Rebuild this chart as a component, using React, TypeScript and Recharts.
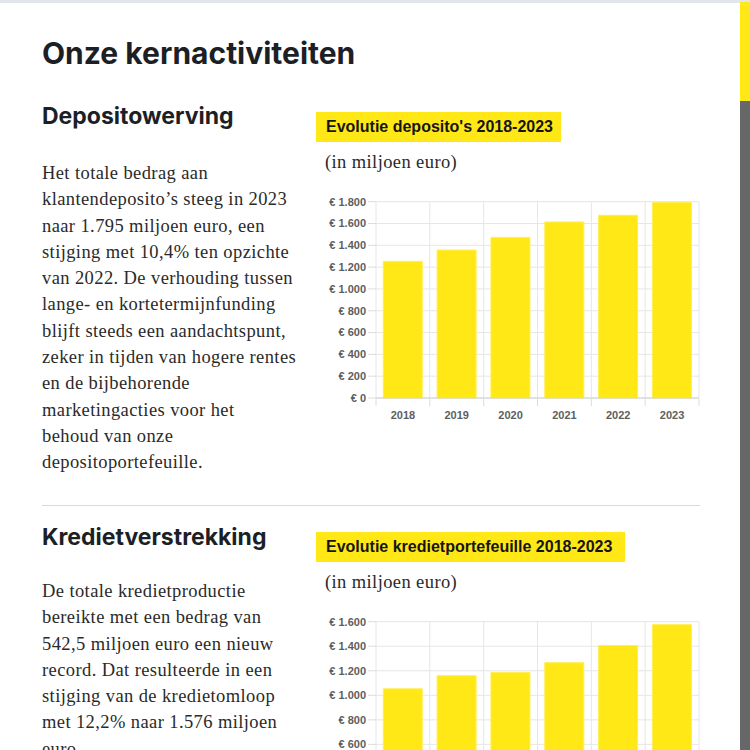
import { BarChart, Bar, XAxis, YAxis, CartesianGrid } from "recharts";

const years = ["2018", "2019", "2020", "2021", "2022", "2023"];
const depositValues = [1253, 1357, 1473, 1614, 1675, 1795];
const creditValues = [1053, 1160, 1187, 1266, 1406, 1576];
const depositTicks = [0, 200, 400, 600, 800, 1000, 1200, 1400, 1600, 1800];
const creditTicks = [0, 200, 400, 600, 800, 1000, 1200, 1400, 1600];

const depositText = [
  "Het totale bedrag aan",
  "klantendeposito’s steeg in 2023",
  "naar 1.795 miljoen euro, een",
  "stijging met 10,4% ten opzichte",
  "van 2022. De verhouding tussen",
  "lange- en kortetermijnfunding",
  "blijft steeds een aandachtspunt,",
  "zeker in tijden van hogere rentes",
  "en de bijbehorende",
  "marketingacties voor het",
  "behoud van onze",
  "depositoportefeuille."
];

const creditText = [
  "De totale kredietproductie",
  "bereikte met een bedrag van",
  "542,5 miljoen euro een nieuw",
  "record. Dat resulteerde in een",
  "stijging van de kredietomloop",
  "met 12,2% naar 1.576 miljoen",
  "euro."
];

const YELLOW = "#FFE815";
const GRID = "#e6e6e6";
const SANS = "'Liberation Sans', Arial, sans-serif";
const SERIF = "'Liberation Serif', 'Times New Roman', serif";
const HEAD = "Inter, 'Noto Sans', sans-serif";

const fmtEuro = (v: number) =>
  "€ " + String(v).replace(/\B(?=(\d{3})+(?!\d))/g, ".");

function YearTick(props: any) {
  const { x, y, payload, index } = props;
  const half = payload?.offset ?? 27;
  return (
    <g>
      <line x1={x - half} x2={x - half} y1={y - 12} y2={y - 5} stroke="#dcdcdc" />
      {index === years.length - 1 && (
        <line x1={x + half} x2={x + half} y1={y - 12} y2={y - 5} stroke="#dcdcdc" />
      )}
      <text
        x={x}
        y={y}
        dy="0.71em"
        textAnchor="middle"
        fontSize={11}
        fontWeight={700}
        fontFamily={SANS}
        fill="#5e5e5e"
      >
        {payload.value}
      </text>
    </g>
  );
}

function YearBars({ values, ticks }: { values: number[]; ticks: number[] }) {
  const data = years.map((year, i) => ({ year, value: values[i] }));
  return (
    <BarChart
      width={390}
      height={240}
      data={data}
      margin={{ top: 11.7, right: 7, bottom: 2, left: 0 }}
      barCategoryGap="13.5%"
    >
      <CartesianGrid
        stroke={GRID}
        verticalCoordinatesGenerator={({ offset }: any) =>
          years.map((_, i) => offset.left + (i * offset.width) / years.length).concat(offset.left + offset.width)
        }
      />
      <XAxis
        dataKey="year"
        height={30}
        tickLine={false}
        tickSize={7}
        tickMargin={6}
        axisLine={{ stroke: "#cfcfcf" }}
        tick={<YearTick />}
        interval={0}
      />
      <YAxis
        width={60}
        domain={[0, ticks[ticks.length - 1]]}
        ticks={ticks}
        interval={0}
        axisLine={false}
        tickLine={{ stroke: "#dcdcdc" }}
        tickSize={8}
        tickMargin={2}
        tickFormatter={fmtEuro}
        tick={{ fontSize: 11, fontWeight: 700, fontFamily: SANS, fill: "#5e5e5e" }}
      />
      <Bar dataKey="value" fill={YELLOW} stroke="#FFEE55" strokeWidth={1} isAnimationActive={false} />
    </BarChart>
  );
}

function Paragraph({ lines, top }: { lines: string[]; top: number }) {
  return (
    <div
      style={{
        position: "absolute",
        left: 42,
        top,
        fontFamily: SERIF,
        fontSize: 18.5,
        letterSpacing: 0.4,
        lineHeight: "26.3px",
        color: "#2a2a2a",
        whiteSpace: "nowrap"
      }}
    >
      {lines.map((l) => (
        <div key={l}>{l}</div>
      ))}
    </div>
  );
}

function Label({ text, top, width }: { text: string; top: number; width: number }) {
  return (
    <div
      style={{
        position: "absolute",
        left: 316,
        top,
        width,
        height: 30,
        background: YELLOW,
        fontFamily: SANS,
        fontWeight: 700,
        fontSize: 16,
        lineHeight: "30px",
        color: "#151515",
        paddingLeft: 10,
        boxSizing: "border-box",
        whiteSpace: "nowrap"
      }}
    >
      {text}
    </div>
  );
}

function Subtitle({ top }: { top: number }) {
  return (
    <div
      style={{
        position: "absolute",
        left: 325,
        top,
        fontFamily: SERIF,
        fontSize: 18.5,
        letterSpacing: 0.4,
        lineHeight: "26px",
        color: "#2a2a2a"
      }}
    >
      (in miljoen euro)
    </div>
  );
}

function Heading({ text, top, size }: { text: string; top: number; size: number }) {
  return (
    <div
      style={{
        position: "absolute",
        left: 42,
        top,
        fontFamily: HEAD,
        fontWeight: 700,
        fontSize: size,
        lineHeight: `${Math.round(size * 1.2)}px`,
        color: "#1c1f26",
        whiteSpace: "nowrap"
      }}
    >
      {text}
    </div>
  );
}

export default function App() {
  return (
    <div
      style={{
        position: "absolute",
        left: 0,
        top: 0,
        width: 750,
        height: 750,
        overflow: "hidden",
        background: "#fff"
      }}
    >
      <div style={{ position: "absolute", left: 0, top: 0, width: 750, height: 3, background: "#e3e5ec" }} />
      <div style={{ position: "absolute", left: 740, top: 2, width: 10, height: 99, background: YELLOW }} />
      <div style={{ position: "absolute", left: 740, top: 101, width: 10, height: 649, background: "#676767" }} />

      <Heading text="Onze kernactiviteiten" top={35} size={30} />

      <Heading text="Depositowerving" top={102} size={23} />
      <Paragraph lines={depositText} top={160} />
      <Label text="Evolutie deposito's 2018-2023" top={112} width={245} />
      <Subtitle top={149} />
      <div style={{ position: "absolute", left: 316, top: 190 }}>
        <YearBars values={depositValues} ticks={depositTicks} />
      </div>

      <div style={{ position: "absolute", left: 42, top: 505, width: 658, height: 1, background: "#dadada" }} />

      <Heading text="Kredietverstrekking" top={523} size={23} />
      <Paragraph lines={creditText} top={578} />
      <Label text="Evolutie kredietportefeuille 2018-2023" top={532} width={309} />
      <Subtitle top={569} />
      <div style={{ position: "absolute", left: 316, top: 610 }}>
        <YearBars values={creditValues} ticks={creditTicks} />
      </div>
    </div>
  );
}
